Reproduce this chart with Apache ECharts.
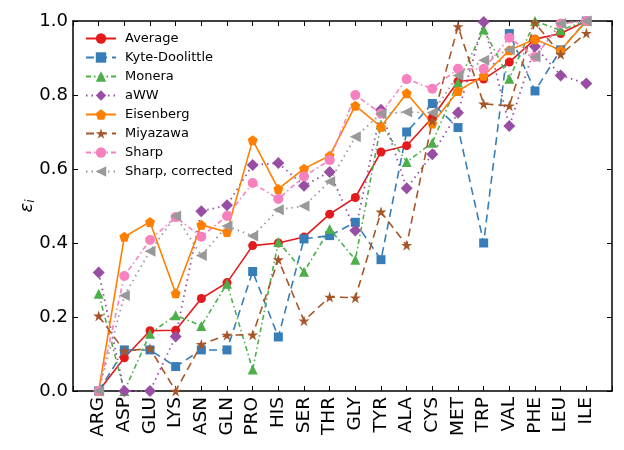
<!DOCTYPE html>
<html>
<head>
<meta charset="utf-8">
<script src="https://cdn.jsdelivr.net/npm/echarts@6/dist/echarts.min.js"></script>
<style>
html,body{margin:0;padding:0;background:#fff;}
#c{width:624px;height:450px;}
</style>
</head>
<body>
<div id="c"></div>
<script>
const categories = ['ARG','ASP','GLU','LYS','ASN','GLN','PRO','HIS','SER','THR','GLY','TYR','ALA','CYS','MET','TRP','VAL','PHE','LEU','ILE'];
const yTicks = [0, 0.2, 0.4, 0.6, 0.8, 1.0];

const average    = [0, 0.090, 0.163, 0.164, 0.250, 0.293, 0.393, 0.400, 0.416, 0.478, 0.523, 0.646, 0.663, 0.739, 0.837, 0.843, 0.889, 0.951, 0.966, 1.0];
const kyte       = [0, 0.111, 0.111, 0.066, 0.111, 0.111, 0.323, 0.146, 0.411, 0.420, 0.456, 0.355, 0.700, 0.777, 0.712, 0.400, 0.966, 0.811, 0.922, 1.0];
const monera     = [0.263, 0.0, 0.155, 0.205, 0.176, 0.290, 0.058, 0.403, 0.322, 0.438, 0.355, 0.720, 0.619, 0.671, 0.834, 0.977, 0.844, 1.0, 0.975, 1.0];
const aww        = [0.320, 0, 0, 0.147, 0.486, 0.502, 0.611, 0.616, 0.555, 0.592, 0.434, 0.760, 0.548, 0.640, 0.752, 0.997, 0.716, 0.931, 0.853, 0.831];
const eisenberg  = [0, 0.417, 0.457, 0.264, 0.449, 0.430, 0.678, 0.546, 0.601, 0.636, 0.771, 0.714, 0.805, 0.723, 0.811, 0.852, 0.921, 0.951, 0.921, 1.0];
const miyazawa   = [0.203, 0.108, 0.115, 0.0, 0.126, 0.151, 0.152, 0.355, 0.190, 0.254, 0.252, 0.484, 0.394, 0.730, 0.985, 0.776, 0.771, 0.995, 0.910, 0.967];
const sharp      = [0, 0.311, 0.408, 0.470, 0.417, 0.473, 0.562, 0.519, 0.580, 0.624, 0.800, 0.750, 0.843, 0.817, 0.871, 0.870, 0.955, 0.903, 0.993, 1.0];
const sharpCorr  = [0, 0.258, 0.378, 0.473, 0.366, 0.446, 0.419, 0.490, 0.500, 0.566, 0.687, 0.749, 0.754, 0.752, 0.853, 0.894, 0.922, 0.903, 0.993, 1.0];

const STAR = 'path://M0,-1 L0.2245,-0.309 L0.951,-0.309 L0.363,0.118 L0.588,0.809 L0,0.382 L-0.588,0.809 L-0.363,0.118 L-0.951,-0.309 L-0.2245,-0.309 Z';
const PENTAGON = 'path://M0,-1 L0.951,-0.309 L0.588,0.809 L-0.588,0.809 L-0.951,-0.309 Z';
const TRILEFT = 'path://M0,5 L9,0 L9,10 Z';

const seriesDefs = [
  {name:'Average', data:average, color:'#e41a1c', type:'solid', symbol:'circle', size:9, width:1.6},
  {name:'Kyte-Doolittle', data:kyte, color:'#377eb8', type:[8,5], symbol:'rect', size:9, width:1.6},
  {name:'Monera', data:monera, color:'#4daf4a', type:[5,3,1.5,3], symbol:'triangle', size:10, width:1.6},
  {name:'aWW', data:aww, color:'#984ea3', type:[1.5,4], symbol:'diamond', size:12, width:1.8},
  {name:'Eisenberg', data:eisenberg, color:'#ff7f00', type:'solid', symbol:PENTAGON, size:10, width:1.6},
  {name:'Miyazawa', data:miyazawa, color:'#a65628', type:[8,5], symbol:STAR, size:11, width:1.6},
  {name:'Sharp', data:sharp, color:'#f781bf', type:[5,3,1.5,3], symbol:'circle', size:10, width:1.6},
  {name:'Sharp, corrected', data:sharpCorr, color:'#999999', type:[1.5,4], symbol:TRILEFT, size:11, width:1.8}
];

const FONT = 'DejaVu Sans';
const chart = echarts.init(document.getElementById('c'), null, {renderer:'canvas'});

const axisLineStyle = {color:'#000', width:1.5};
const option = {
  animation:false,
  backgroundColor:'#fff',
  textStyle:{fontFamily:FONT},
  grid:{left:73, right:12, top:21, bottom:59, containLabel:false},
  legend:{
    orient:'vertical', left:80, top:27,
    itemWidth:30, itemHeight:13, itemGap:6,
    textStyle:{fontFamily:FONT, fontSize:13, color:'#000', padding:[0,0,0,4]},
    data: seriesDefs.map(s => s.name)
  },
  xAxis:[{
    type:'value', min:-1, max:20, interval:1,
    axisLine:{show:true, onZero:false, lineStyle:axisLineStyle},
    axisTick:{show:true, inside:true, length:5, lineStyle:{color:'#000', width:1}},
    splitLine:{show:false},
    axisLabel:{
      rotate:90, fontFamily:FONT, fontSize:18.5, color:'#000', margin:6,
      formatter: v => (v >= 0 && v < categories.length && Number.isInteger(v)) ? categories[v] : ''
    }
  },{
    type:'value', position:'top', min:-1, max:20, interval:1,
    axisLine:{show:true, onZero:false, lineStyle:axisLineStyle},
    axisTick:{show:true, inside:true, length:5, lineStyle:{color:'#000', width:1}},
    splitLine:{show:false}, axisLabel:{show:false}
  }],
  yAxis:[{
    type:'value', min:0, max:1, interval:0.2,
    name:'{e|ε}{s|i}', nameLocation:'middle', nameGap:36, nameRotate:90,
    nameMoveOverlap:false,
    nameTextStyle:{rich:{
      e:{fontFamily:FONT, fontSize:18, fontStyle:'italic', color:'#000'},
      s:{fontFamily:FONT, fontSize:12, fontStyle:'italic', color:'#000', verticalAlign:'bottom', padding:[8,0,0,0]}
    }},
    axisLine:{show:true, onZero:false, lineStyle:axisLineStyle},
    axisTick:{show:true, inside:true, length:5, lineStyle:{color:'#000', width:1}},
    splitLine:{show:false},
    axisLabel:{fontFamily:FONT, fontSize:18, color:'#000', margin:5, formatter: v => v.toFixed(1)}
  },{
    type:'value', position:'right', min:0, max:1, interval:0.2,
    axisLine:{show:true, onZero:false, lineStyle:axisLineStyle},
    axisTick:{show:true, inside:true, length:5, lineStyle:{color:'#000', width:1}},
    splitLine:{show:false}, axisLabel:{show:false}
  }],
  series: seriesDefs.map(s => ({
    name:s.name, type:'line',
    xAxisIndex:0, yAxisIndex:0,
    data: s.data.map((v,i) => [i, v]),
    symbol:s.symbol, symbolSize:s.size, showAllSymbol:true,
    itemStyle:{color:s.color, borderWidth:0},
    lineStyle:{color:s.color, width:s.width, type:s.type},
    emphasis:{disabled:true},
    clip:true
  }))
};
chart.setOption(option);
</script>
</body>
</html>
